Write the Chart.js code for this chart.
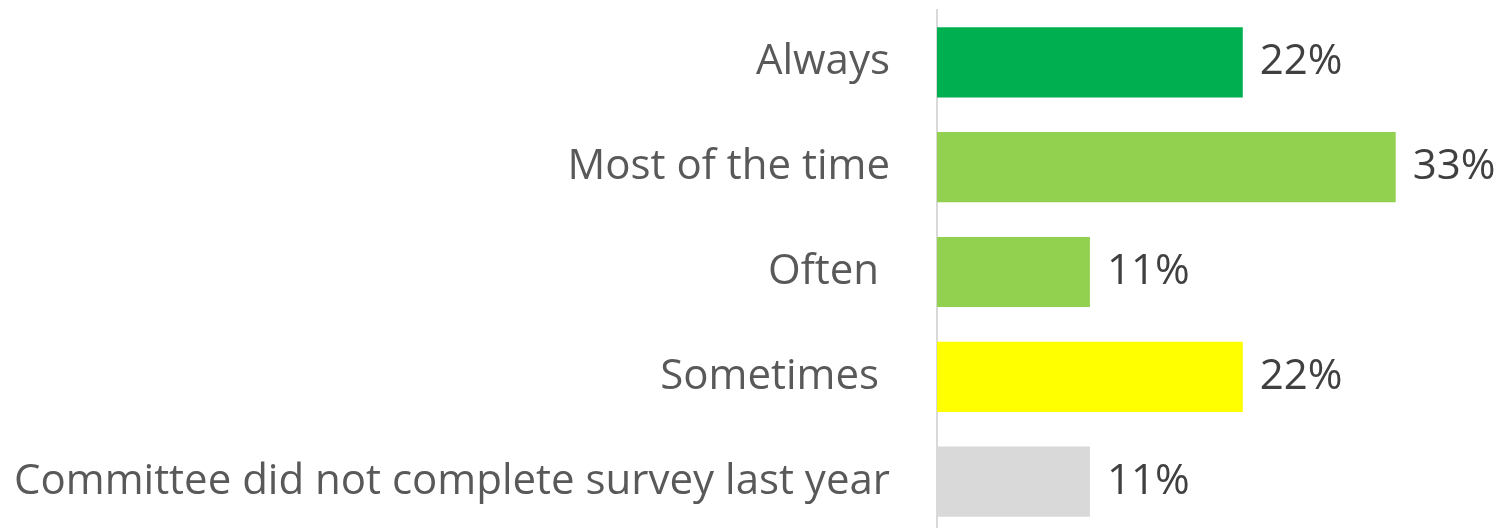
<!DOCTYPE html>
<html>
<head>
<meta charset="utf-8">
<script src="https://cdn.jsdelivr.net/npm/chart.js@4/dist/chart.umd.min.js"></script>
<style>
  html, body { margin: 0; padding: 0; background: #fff; overflow: hidden; }
  #wrap { width: 1502px; height: 534px; position: relative; }
</style>
</head>
<body>
<div id="wrap"><canvas id="answersChart"></canvas></div>
<script>
const categories = ['Always', 'Most of the time', 'Often ', 'Sometimes ', 'Committee did not complete survey last year'];
const percents = [22, 33, 11, 22, 11];
const barColors = ['#00b050', '#92d050', '#92d050', '#ffff00', '#d9d9d9'];

const FONT = { family: '"Open Sans", "Noto Sans", sans-serif', size: 42 };

// Percent labels to the right of each bar
const valueLabels = {
  id: 'valueLabels',
  afterDatasetsDraw(chart) {
    const c = chart.ctx;
    const meta = chart.getDatasetMeta(0);
    c.save();
    c.font = `${FONT.size}px ${FONT.family}`;
    c.fillStyle = '#404040';
    c.textBaseline = 'middle';
    c.textAlign = 'left';
    meta.data.forEach((bar, i) => {
      c.fillText(percents[i] + '%', bar.x + 17, bar.y);
    });
    c.restore();
  }
};

const ctx = document.getElementById('answersChart').getContext('2d');
new Chart(ctx, {
  type: 'bar',
  data: {
    labels: categories,
    datasets: [{
      data: percents,
      backgroundColor: barColors,
      borderWidth: 0,
      barPercentage: 0.67,
      categoryPercentage: 1
    }]
  },
  options: {
    indexAxis: 'y',
    responsive: true,
    maintainAspectRatio: false,
    animation: false,
    layout: { padding: { top: 10, right: 9, left: 0, bottom: 0 } },
    plugins: {
      legend: { display: false },
      tooltip: { enabled: false }
    },
    scales: {
      x: { display: false, min: 0, max: 40 },
      y: {
        grid: { display: false, drawTicks: false },
        border: { display: true, color: '#d9d9d9', width: 2 },
        ticks: { color: '#595959', font: FONT, padding: 47 },
        afterFit(scale) {
          scale.width = 937;
          // tick padding should not shrink the plot vertically
          scale.paddingTop = 0;
          scale.paddingBottom = 0;
        }
      }
    }
  },
  plugins: [valueLabels]
});
</script>
</body>
</html>
